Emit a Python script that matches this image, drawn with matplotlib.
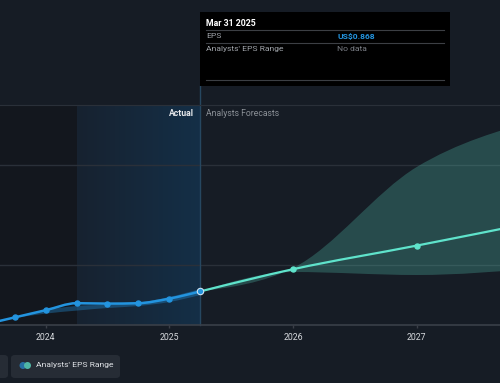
import numpy as np
import matplotlib
matplotlib.use("Agg")
import matplotlib.pyplot as plt
from matplotlib.path import Path
from matplotlib.patches import PathPatch, FancyBboxPatch, Rectangle, Ellipse
from matplotlib.colors import LinearSegmentedColormap

plt.rcParams["font.family"] = ["Roboto", "DejaVu Sans"]

# data (decimal years, EPS in US$)
actual_x = [2023.5, 2023.75, 2024.0, 2024.25, 2024.5, 2024.75, 2025.0, 2025.25]
actual_eps = [0.702, 0.738, 0.774, 0.809, 0.807, 0.809, 0.832, 0.868]
past_range_x = [2023.75, 2024.0, 2024.25, 2024.5, 2024.75, 2025.0, 2025.25]
past_range_low = [0.735, 0.757, 0.772, 0.785, 0.795, 0.815, 0.850]
past_range_high = [0.740, 0.775, 0.795, 0.802, 0.812, 0.840, 0.880]

forecast_x = [2025.25, 2026.0, 2027.0, 2028.0]
forecast_eps = [0.868, 0.979, 1.097, 1.22]
forecast_low = [0.868, 0.965, 0.950, 0.985]
forecast_high = [0.868, 0.985, 1.490, 1.730]

year_ticks = [2024, 2025, 2026, 2027]
year_labels = ["2024", "2025", "2026", "2027"]
grid_values = [1.0, 1.5]

BG = "#161c25"
BLUE = "#2394df"
TEAL = "#5fe3cb"
W, H = 500, 383


def monotone_verts(xs, ys):
    """Bezier vertices for a monotone-x cubic through the points (like d3 curveMonotoneX)."""
    xs = np.asarray(xs, float)
    ys = np.asarray(ys, float)
    n = len(xs)
    h = np.diff(xs)
    s = np.diff(ys) / h
    t = np.zeros(n)
    for i in range(1, n - 1):
        p = (s[i - 1] * h[i] + s[i] * h[i - 1]) / (h[i - 1] + h[i])
        sg = (-1 if s[i - 1] < 0 else 1) + (-1 if s[i] < 0 else 1)
        t[i] = sg * min(abs(s[i - 1]), abs(s[i]), 0.5 * abs(p))
    if n > 2:
        t[0] = (3 * s[0] - t[1]) / 2
        t[-1] = (3 * s[-1] - t[-2]) / 2
    else:
        t[:] = s[0]
    verts = [(xs[0], ys[0])]
    for i in range(n - 1):
        dx = h[i] / 3
        verts += [(xs[i] + dx, ys[i] + dx * t[i]),
                  (xs[i + 1] - dx, ys[i + 1] - dx * t[i + 1]),
                  (xs[i + 1], ys[i + 1])]
    return verts


def curve_path(xs, ys):
    verts = monotone_verts(xs, ys)
    codes = [Path.MOVETO] + [Path.CURVE4] * (len(verts) - 1)
    return Path(verts, codes)


def band_path(xs, low, high):
    up = monotone_verts(xs, high)
    lo = monotone_verts(xs, low)[::-1]
    verts = up + lo + [up[0]]
    codes = ([Path.MOVETO] + [Path.CURVE4] * (len(up) - 1)
             + [Path.LINETO] + [Path.CURVE4] * (len(lo) - 1) + [Path.CLOSEPOLY])
    return Path(verts, codes)


def px(x, y):
    return x / W, 1 - y / H


fig = plt.figure(figsize=(5, 3.83), dpi=100, facecolor=BG)
ax = fig.add_axes([0, 1 - 325 / H, 1, 220 / H])
ax.set_facecolor(BG)
x0, x1 = 2023.631, 2027.673
y0, y1 = 0.70, 1.80

# shaded past / last-year regions
ax.axvspan(x0, 2024.25, color="#13171e", lw=0, zorder=0)
grad = LinearSegmentedColormap.from_list("g", ["#172230", "#142f47"])
ax.imshow(np.linspace(0, 1, 100)[None, :], cmap=grad, aspect="auto",
          extent=[2024.25, 2025.25, y0, y1], zorder=0.5)
ax.set_xlim(x0, x1)
ax.set_ylim(y0, y1)

for g in grid_values:
    ax.axhline(g, color="#2a3039", lw=1, zorder=1)

ax.axvline(2025.25, ymin=0, ymax=(325 - 86) / 220, color="#264760", lw=1,
           clip_on=False, zorder=1)

# bands
ax.add_patch(PathPatch(band_path(forecast_x, forecast_low, forecast_high),
                       facecolor=TEAL, alpha=0.24, lw=0, zorder=2))
ax.add_patch(PathPatch(band_path(past_range_x, past_range_low, past_range_high),
                       facecolor=BLUE, alpha=0.35, lw=0, zorder=2))

# lines
ax.add_patch(PathPatch(curve_path(forecast_x, forecast_eps), fill=False,
                       edgecolor=TEAL, lw=1.6, capstyle="round", zorder=3))
ax.add_patch(PathPatch(curve_path(actual_x, actual_eps), fill=False,
                       edgecolor=BLUE, lw=1.8, capstyle="round", zorder=4))
ax.plot(forecast_x[1:], forecast_eps[1:], "o", color=TEAL, ms=3.6, zorder=5)
ax.plot(actual_x[1:-1], actual_eps[1:-1], "o", color=BLUE, ms=3.6, zorder=5)
ax.plot(actual_x[-1:], actual_eps[-1:], "o", color=BLUE, ms=4.6,
        markeredgecolor="#cfe3f3", markeredgewidth=0.8, zorder=6)

for side in ["left", "right"]:
    ax.spines[side].set_visible(False)
ax.spines["top"].set_color("#2a3039")
ax.spines["bottom"].set_color("#3a3f48")
ax.spines["bottom"].set_linewidth(1.2)
ax.set_yticks([])
ax.set_xticks(year_ticks)
ax.set_xticklabels(year_labels)
ax.tick_params(axis="x", colors="#3a3f48", labelcolor="#d6d9dd", length=2.5,
               width=1, pad=3, labelsize=6.3)

# labels at top of the chart
fig.text(*px(194, 113), "Actual", ha="right", va="center", color="#e6e8eb",
         fontsize=6.2, fontweight="bold")
fig.text(*px(206, 113), "Analysts Forecasts", ha="left", va="center",
         color="#8b9097", fontsize=6.2)

# tooltip
fig.add_artist(Rectangle(px(200, 86), 250 / W, 74 / H, transform=fig.transFigure,
                         facecolor="#000000", edgecolor="none", zorder=10))
for yy in (30, 43, 80):
    fig.add_artist(plt.Line2D([206 / W, 444 / W], [1 - yy / H] * 2,
                              color="#3c3f44", lw=0.8, zorder=11))
fig.text(*px(206, 23), "Mar 31 2025", ha="left", va="center", color="#ffffff",
         fontsize=6.3, fontweight="bold", zorder=12)
fig.text(*px(206, 36.5), "EPS", ha="left", va="center", color="#a0a4aa",
         fontsize=6.1, zorder=12)
fig.text(*px(337, 36.5), "US$0.868", ha="left", va="center", color=BLUE,
         fontsize=6.1, fontweight="bold", zorder=12)
fig.text(*px(206, 49), "Analysts' EPS Range", ha="left", va="center",
         color="#a0a4aa", fontsize=6.1, zorder=12)
fig.text(*px(337, 49), "No data", ha="left", va="center", color="#7b7f86",
         fontsize=6.1, zorder=12)

# legend buttons
for left, right in ((-60, 8), (11, 120)):
    fig.add_artist(FancyBboxPatch(px(left, 378), (right - left) / W, 23 / H,
                                  boxstyle="round,pad=0,rounding_size=0.008",
                                  transform=fig.transFigure, zorder=3,
                                  facecolor="#262c35", edgecolor="none"))
fig.add_artist(Ellipse(px(23, 365.5), 7 / W, 7 / H, transform=fig.transFigure,
                       facecolor="#2670a3", edgecolor="none", zorder=4))
fig.add_artist(Ellipse(px(27.5, 365.5), 7 / W, 7 / H, transform=fig.transFigure,
                       facecolor="#4fb7a5", edgecolor="none", zorder=5))
fig.text(*px(36, 365.5), "Analysts' EPS Range", ha="left", va="center",
         color="#dfe2e6", fontsize=6.1, zorder=6)

fig.savefig("out.png", dpi=100, facecolor=BG)
